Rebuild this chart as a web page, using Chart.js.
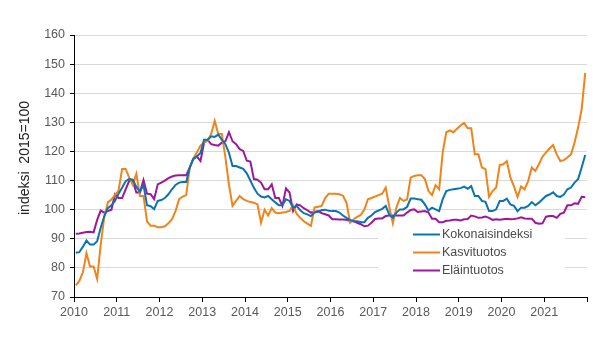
<!DOCTYPE html>
<html>
<head>
<meta charset="utf-8">
<script src="https://cdn.jsdelivr.net/npm/chart.js@4.4.0/dist/chart.umd.min.js"></script>
<style>
  html, body { margin: 0; padding: 0; background: #fff; }
  #wrap { width: 608px; height: 343px; }
</style>
</head>
<body>
<div id="wrap"><canvas id="chart" width="608" height="343"></canvas></div>
<script>
// monthly index 2015=100, Jan 2010 .. Dec 2021
const years = [2010, 2011, 2012, 2013, 2014, 2015, 2016, 2017, 2018, 2019, 2020, 2021];
const seriesNames = ['Kokonaisindeksi', 'Kasvituotos', 'Eläintuotos'];

const kokonaisindeksi = [
  85.2, 85.4, 87.3, 89.4, 88.0, 88.0, 89.2, 93.8, 97.8, 100.5, 101.5, 103.0,
  105.5, 107.5, 109.8, 110.5, 110.3, 107.8, 106.2, 108.5, 101.5, 101.2, 100.2, 103.0,
  103.3, 104.0, 105.3, 107.0, 108.5, 109.3, 109.5, 109.5, 114.5, 117.5, 118.3, 119.5,
  124.0, 124.0, 125.2, 125.0, 125.8, 124.0, 122.5, 119.5, 115.0, 115.0, 114.5, 114.0,
  112.5, 110.0, 107.5, 105.5, 104.5, 104.2, 104.7, 103.6, 102.5, 101.5, 101.5, 103.6,
  103.0, 100.7, 101.3, 99.8, 98.8, 98.4, 97.8, 99.0, 99.3, 99.8, 100.0, 99.6,
  99.5, 99.5, 99.0, 98.0, 97.2, 96.5, 96.0, 96.0, 95.7, 95.7, 97.2, 98.0,
  99.2, 99.7, 100.3, 101.3, 98.3, 97.2, 99.0, 100.1, 100.1, 101.0, 103.8, 103.8,
  103.6, 103.4, 101.8, 99.7, 100.7, 100.1, 99.5, 103.6, 106.4, 106.8, 107.0, 107.2,
  107.4, 107.9, 107.2, 108.1, 104.7, 104.7, 103.0, 102.7, 99.5, 99.5, 100.1, 103.0,
  103.0, 103.8, 101.8, 101.3, 99.5, 100.7, 100.7, 101.3, 102.6, 101.5, 102.4, 103.6,
  104.7, 105.2, 106.0, 104.7, 104.4, 105.2, 107.0, 107.6, 109.3, 110.5, 114.5, 118.8
];

const kasvituotos = [
  74.0, 75.5, 78.5, 85.0, 80.5, 80.5, 76.2, 88.0, 97.5, 102.5, 103.5, 105.0,
  106.5, 114.0, 114.0, 111.0, 108.5, 112.3, 104.7, 104.7, 96.0, 94.5, 94.5, 94.0,
  94.0, 94.3, 95.3, 96.7, 99.5, 103.6, 104.5, 105.0, 114.5, 117.5, 119.7, 122.0,
  123.0, 123.6, 126.0, 130.5, 126.0, 126.0, 118.0, 108.5, 101.3, 103.0, 104.7, 103.6,
  103.0, 102.6, 102.4, 101.8, 95.5, 100.0, 98.0, 100.5, 99.0, 98.8, 99.0, 99.2,
  99.6, 101.5, 98.5, 97.2, 96.0, 95.2, 94.4, 100.7, 101.0, 101.3, 104.0, 105.5,
  105.5, 105.5, 105.3, 104.8, 102.4, 95.5, 96.7, 97.5, 98.2, 100.0, 103.6, 104.0,
  104.5, 105.0, 105.5, 107.6, 101.0, 95.3, 100.7, 104.0, 103.0, 103.5, 111.0, 111.6,
  111.8, 111.8, 110.5, 106.4, 105.0, 108.4, 107.0, 119.7, 126.6, 127.2, 126.6, 127.8,
  128.9, 129.8, 128.0, 128.0, 119.0, 119.0, 114.5, 113.9, 104.4, 106.4, 107.6, 115.3,
  115.6, 116.7, 111.0, 108.0, 104.4, 108.0, 107.0, 109.9, 114.5, 113.3, 115.6, 118.2,
  119.7, 121.0, 122.2, 119.0, 116.7, 117.0, 117.9, 119.0, 123.0, 128.2, 134.5, 147.0
];

const elaintuotos = [
  91.7, 91.8, 92.1, 92.3, 92.4, 92.2, 96.5, 99.7, 99.0, 99.5, 100.0, 105.3,
  104.0, 104.0, 107.0, 109.9, 109.9, 105.9, 105.9, 110.2, 105.5, 105.3, 103.6, 108.7,
  109.3, 110.0, 110.8, 111.4, 111.7, 111.8, 111.8, 111.8, 114.5, 117.4, 118.2, 116.7,
  123.0, 124.0, 122.5, 122.2, 122.0, 123.0, 123.5, 126.6, 123.5, 122.5, 120.8, 120.2,
  116.8, 116.5, 110.5, 110.3, 109.3, 107.0, 107.0, 108.7, 104.0, 104.0, 101.3, 107.3,
  105.9, 99.5, 101.8, 101.5, 100.5, 99.8, 99.0, 99.2, 99.5, 98.8, 98.4, 98.0,
  96.7, 96.7, 96.6, 96.6, 96.5, 96.1, 96.0, 95.5, 95.0, 94.3, 94.5, 95.5,
  96.8, 97.0, 97.0, 97.8, 98.0, 98.0, 98.0, 98.0, 98.0, 99.0, 99.9, 100.1,
  99.2, 99.4, 99.5, 99.0, 96.9, 96.9, 95.7, 95.7, 96.2, 96.3, 96.5, 96.5,
  96.3, 96.7, 96.8, 98.0, 97.7, 97.2, 97.3, 97.6, 97.2, 96.5, 96.7, 96.5,
  96.7, 96.9, 96.7, 96.8, 97.0, 97.4, 97.0, 96.9, 96.9, 95.5, 95.2, 95.3,
  97.6, 97.8, 97.8, 97.2, 98.6, 99.0, 101.5, 101.5, 102.2, 102.0, 104.4, 104.3
];

const yMin = 70, yMax = 160, yStep = 10;
const yTitle = 'indeksi  2015=100';

const colors = ['#0a73b2', '#f0841a', '#a0169a'];
const tickFont = { family: '"Liberation Sans", Arial, sans-serif', size: 12.5 };

// each value sits in the middle of its month on a continuous year axis
function toPoints(values) {
  return values.map((v, i) => ({ x: years[0] + (i + 0.5) / 12, y: v }));
}

const boxedLegend = {
  id: 'boxedLegend',
  beforeDatasetsDraw(chart) {
    const { ctx, chartArea } = chart;
    ctx.save();
    ctx.fillStyle = '#fff';
    ctx.fillRect(chartArea.left + 304, 228, 187, 56);
    ctx.restore();
  },
  afterDraw(chart) {
    const { ctx, chartArea } = chart;
    ctx.save();
    // legend inside the plot, lower right
    const x0 = chartArea.left + 339;
    chart.data.datasets.forEach((ds, i) => {
      const y = 234.5 + i * 18;
      ctx.strokeStyle = ds.borderColor;
      ctx.lineWidth = 2;
      ctx.beginPath();
      ctx.moveTo(x0, y);
      ctx.lineTo(x0 + 27, y);
      ctx.stroke();
      ctx.fillStyle = '#4a4a4a';
      ctx.font = '12.5px "Liberation Sans", Arial, sans-serif';
      ctx.textBaseline = 'middle';
      ctx.textAlign = 'left';
      ctx.fillText(ds.label, x0 + 29, y + 0.5);
    });
    // rotated y axis title
    ctx.translate(25, 158);
    ctx.rotate(-Math.PI / 2);
    ctx.fillStyle = '#222';
    ctx.font = '14px "Liberation Sans", Arial, sans-serif';
    ctx.textAlign = 'center';
    ctx.textBaseline = 'middle';
    ctx.fillText(yTitle, 0, 0);
    ctx.restore();
  }
};

const ctx = document.getElementById('chart').getContext('2d');
new Chart(ctx, {
  type: 'line',
  data: {
    datasets: [kokonaisindeksi, kasvituotos, elaintuotos].map((vals, i) => ({
      label: seriesNames[i],
      data: toPoints(vals),
      borderColor: colors[i],
      backgroundColor: colors[i],
      borderWidth: 2,
      pointRadius: 0,
      tension: 0,
      fill: false
    }))
  },
  options: {
    responsive: false,
    animation: false,
    layout: { padding: { top: 35, right: 21, bottom: 0, left: 0 } },
    plugins: { legend: { display: false }, tooltip: { enabled: false } },
    scales: {
      x: {
        type: 'linear',
        min: years[0],
        max: years[years.length - 1] + 1,
        afterFit(scale) { scale.height = 46; },
        border: { color: '#000', width: 1 },
        grid: { drawOnChartArea: false, drawTicks: true, tickLength: 5, tickColor: '#000' },
        ticks: {
          stepSize: 1,
          padding: 3,
          color: '#595959',
          font: tickFont,
          maxRotation: 0,
          callback: v => (v <= years[years.length - 1] ? String(v) : '')
        }
      },
      y: {
        min: yMin,
        max: yMax,
        afterFit(scale) { scale.width = 74; },
        border: { color: '#000', width: 1 },
        grid: { color: '#d9d9d9', lineWidth: 1, tickLength: 4, tickColor: '#000' },
        ticks: { stepSize: yStep, padding: 5, color: '#595959', font: tickFont }
      }
    }
  },
  plugins: [boxedLegend]
});
</script>
</body>
</html>
